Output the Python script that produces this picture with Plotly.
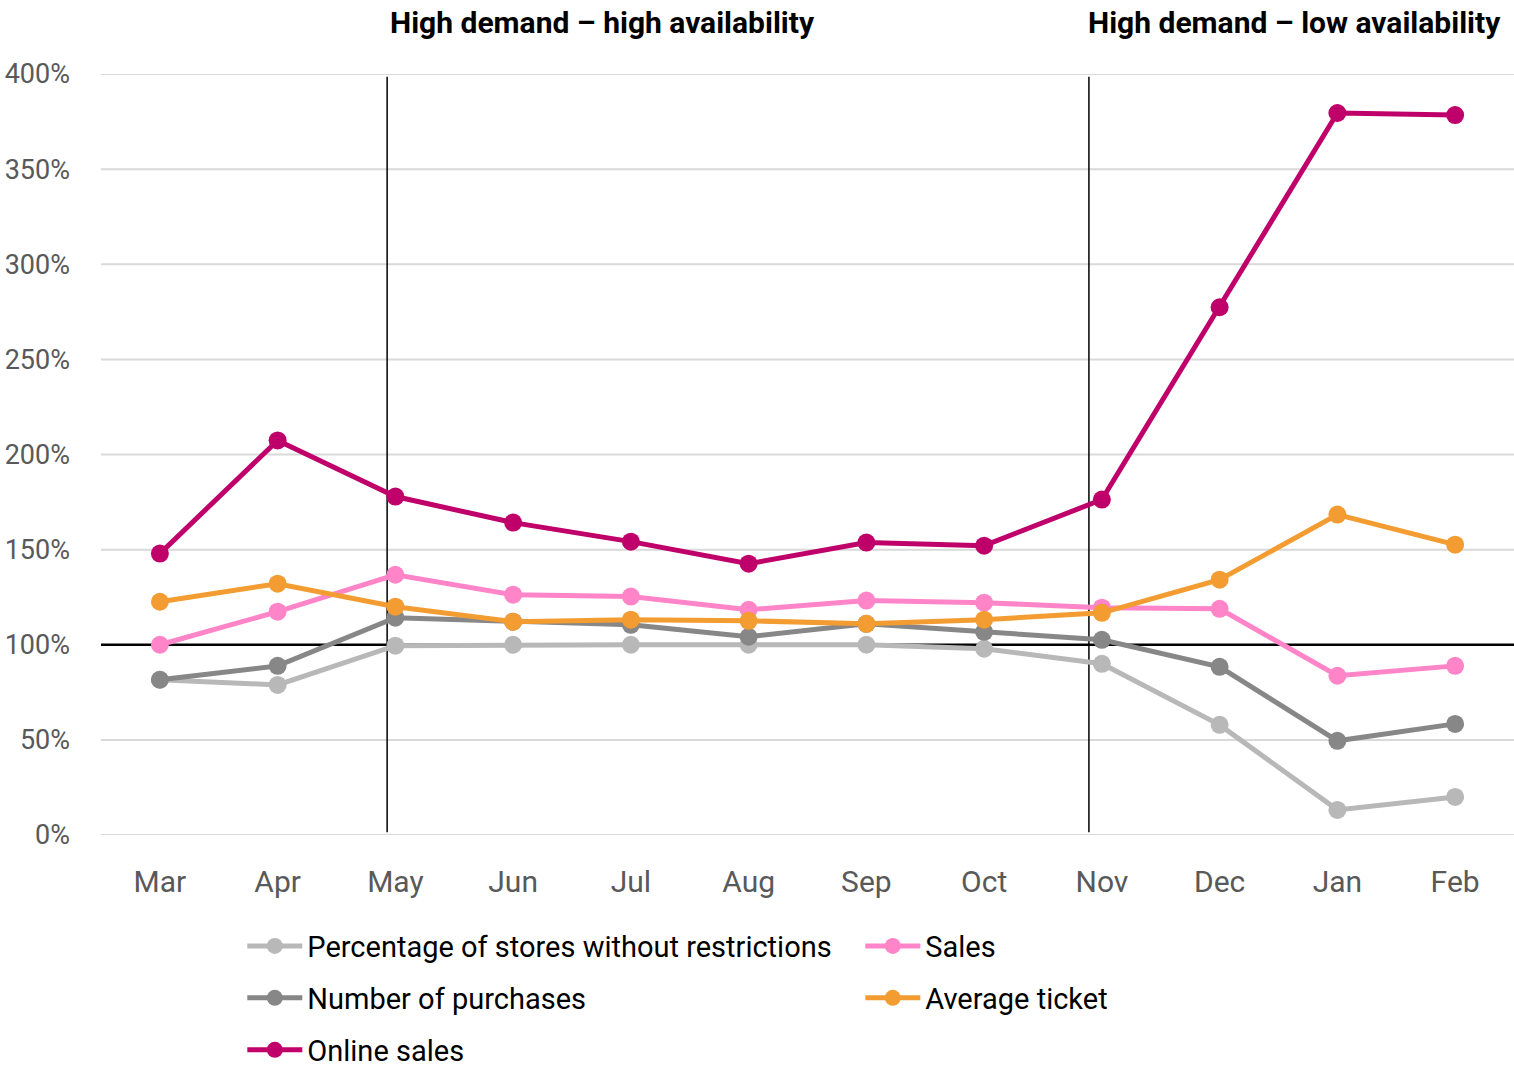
import plotly.graph_objects as go

months = ["Mar", "Apr", "May", "Jun", "Jul", "Aug", "Sep", "Oct", "Nov", "Dec", "Jan", "Feb"]

stores_no_restrictions = [81.6, 78.9, 99.5, 100, 100, 100, 100, 97.9, 90, 57.9, 13.2, 20]
number_of_purchases = [81.6, 88.9, 114.2, 112.1, 110.5, 104.2, 111, 106.8, 102.6, 88.4, 49.5, 58.4]
sales = [100, 117.4, 136.8, 126.3, 125.3, 118.4, 123.2, 122.1, 119.5, 118.9, 83.7, 88.9]
average_ticket = [122.6, 132.1, 120, 112.1, 113.2, 112.6, 111, 113.2, 116.8, 134.2, 168.4, 152.6]
online_sales = [147.9, 207.4, 177.9, 164.2, 154.2, 142.6, 153.7, 152.1, 176.3, 277.4, 379.5, 378.4]

y_ticks = [0, 50, 100, 150, 200, 250, 300, 350, 400]
y_tick_labels = ["0%", "50%", "100%", "150%", "200%", "250%", "300%", "350%", "400%"]
baseline = 100

period_boundaries = [1.93, 7.89]
period_titles = ["High demand – high availability", "High demand – low availability"]

FONT = "Roboto, sans-serif"

# name, values, colour, legend row, rank within row
series = [
    ("Percentage of stores without restrictions", stores_no_restrictions, "#B8B8B8", "legend", 1),
    ("Number of purchases", number_of_purchases, "#878787", "legend2", 1),
    ("Sales", sales, "#FF85C8", "legend", 2),
    ("Average ticket", average_ticket, "#F39C31", "legend2", 2),
    ("Online sales", online_sales, "#C0006A", "legend3", 1),
]

fig = go.Figure()
for name, vals, color, leg, rank in series:
    fig.add_trace(go.Scatter(
        x=months, y=vals, name=name, mode="lines+markers",
        line=dict(color=color, width=5),
        marker=dict(color=color, size=18),
        legend=leg, legendrank=rank,
    ))

# light gridlines (all ticks except the baseline, which is drawn black)
for gv in y_ticks:
    if gv == baseline:
        continue
    fig.add_shape(type="line", xref="paper", yref="y", x0=0, x1=1, y0=gv, y1=gv,
                  line=dict(color="#D9D9D9", width=2), layer="below")

fig.add_shape(type="line", xref="paper", yref="y", x0=0, x1=1, y0=baseline, y1=baseline,
              line=dict(color="black", width=2.5), layer="below")

for xb in period_boundaries:
    fig.add_shape(type="line", xref="x", yref="y", x0=xb, x1=xb, y0=1.5, y1=398.5,
                  line=dict(color="black", width=1.5), layer="below")

fig.add_annotation(text="<b>" + period_titles[0] + "</b>", xref="x", yref="paper",
                   x=3.76, y=1.068, showarrow=False, xanchor="center", yanchor="middle",
                   font=dict(family=FONT, size=30, color="black"))
fig.add_annotation(text="<b>" + period_titles[1] + "</b>", xref="paper", yref="paper",
                   x=0.992, y=1.068, showarrow=False, xanchor="right", yanchor="middle",
                   font=dict(family=FONT, size=30, color="black"))

legend_common = dict(
    orientation="h", x=0.1, xanchor="left", yanchor="middle",
    font=dict(size=29, color="black", family=FONT),
    entrywidth=548, entrywidthmode="pixels",
    itemwidth=55, tracegroupgap=0, bgcolor="rgba(0,0,0,0)",
)

fig.update_layout(
    width=1514, height=1067,
    margin=dict(l=101, r=0, t=74, b=232, autoexpand=False),
    plot_bgcolor="white", paper_bgcolor="white",
    font=dict(family=FONT, color="#595959"),
    xaxis=dict(
        range=[-0.5, 11.5], showgrid=False, showline=False, zeroline=False,
        tickfont=dict(size=30, color="#595959"), ticks="", ticklabelstandoff=26,
    ),
    yaxis=dict(
        range=[0, 400], tickvals=y_ticks, ticktext=y_tick_labels,
        showgrid=False, zeroline=False,
        showline=False, tickfont=dict(size=27, color="#595959"), ticks="",
        ticklabelstandoff=30,
    ),
    legend=dict(legend_common, y=-0.1459),
    legend2=dict(legend_common, y=-0.2142),
    legend3=dict(legend_common, y=-0.2825),
    showlegend=True,
)

fig.write_html("out.html")
